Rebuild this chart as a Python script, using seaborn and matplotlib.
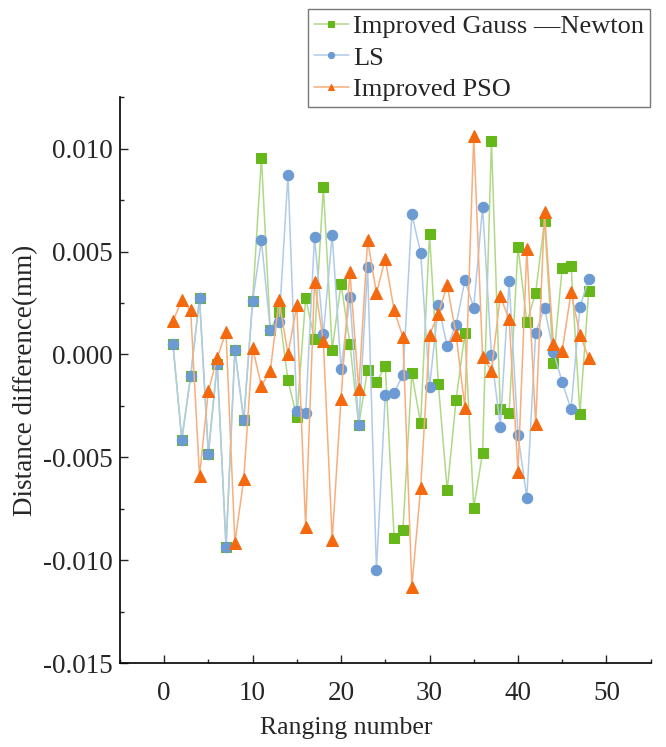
import numpy as np
import pandas as pd
import seaborn as sns
import matplotlib.pyplot as plt
from matplotlib.ticker import MultipleLocator, StrMethodFormatter

# ranging number 1..48
ranging = list(range(1, 49))

gauss_newton = [0.00049, -0.00413, -0.00105, 0.00273, -0.00482, -0.00044, -0.00934, 0.00023, -0.00320, 0.00259,
                0.00955, 0.00117, 0.00205, -0.00125, -0.00304, 0.00275, 0.00073, 0.00812, 0.00024, 0.00343,
                0.00053, -0.00343, -0.00073, -0.00134, -0.00057, -0.00890, -0.00850, -0.00092, -0.00335, 0.00586,
                -0.00144, -0.00660, -0.00222, 0.00105, -0.00744, -0.00477, 0.01039, -0.00267, -0.00283, 0.00523,
                0.00157, 0.00300, 0.00647, -0.00040, 0.00421, 0.00432, -0.00288, 0.00310]

ls = [0.00049, -0.00413, -0.00105, 0.00273, -0.00482, -0.00044, -0.00934, 0.00023, -0.00320, 0.00259,
      0.00555, 0.00117, 0.00157, 0.00874, -0.00275, -0.00283, 0.00570, 0.00100, 0.00579, -0.00070,
      0.00278, -0.00343, 0.00426, -0.01049, -0.00197, -0.00186, -0.00100, 0.00680, 0.00494, -0.00160,
      0.00239, 0.00040, 0.00141, 0.00361, 0.00228, 0.00717, -0.00003, -0.00350, 0.00356, -0.00390,
      -0.00696, 0.00105, 0.00227, 0.00013, -0.00134, -0.00267, 0.00231, 0.00367]

pso = [0.00162, 0.00264, 0.00214, -0.00590, -0.00178, -0.00016, 0.00110, -0.00914, -0.00607, 0.00032,
       -0.00153, -0.00078, 0.00264, 0.00000, 0.00238, -0.00838, 0.00351, 0.00065, -0.00901, -0.00215,
       0.00401, -0.00170, 0.00555, 0.00299, 0.00464, 0.00214, 0.00084, -0.01128, -0.00649, 0.00094,
       0.00199, 0.00336, 0.00097, -0.00259, 0.01060, -0.00013, -0.00078, 0.00283, 0.00170, -0.00571,
       0.00510, -0.00340, 0.00691, 0.00049, 0.00019, 0.00302, 0.00097, -0.00019]

labels = ['Improved Gauss \u2014Newton', 'LS', 'Improved PSO']
series = [gauss_newton, ls, pso]
markers = ['s', 'o', '^']
mcolors = ['#66b81a', '#6b9bd2', '#f4680e']
lcolors = ['#b0d986', '#b0cbe8', '#f7ae7c']
msizes = [6.5, 7.5, 8]

sns.set_style('white')
plt.rcParams['font.family'] = ['Liberation Serif', 'DejaVu Serif']
plt.rcParams['axes.unicode_minus'] = False

fi = plt.figure(figsize=(6.66, 7.47), dpi=100)
ax = fi.add_axes([0.180, 0.112, 0.797, 0.758])

for lab, vals, mk, mc, lc, ms in zip(labels, series, markers, mcolors, lcolors, msizes):
    df = pd.DataFrame({'x': ranging, 'y': vals})
    sns.lineplot(  data=df
                 , x='x'
                 , y='y'
                 , color=lc
                 , linewidth=1.1
                 , marker=mk
                 , markersize=ms
                 , markerfacecolor=mc
                 , markeredgecolor=mc
                 , label=lab
                 , legend=False
                 , ax=ax
                )

ax.set_xlim(-5, 55)
ax.set_ylim(-0.015, 0.0125)
ax.xaxis.set_major_locator(MultipleLocator(10))
ax.xaxis.set_minor_locator(MultipleLocator(5))
ax.yaxis.set_major_locator(MultipleLocator(0.005))
ax.yaxis.set_minor_locator(MultipleLocator(0.0025))
ax.yaxis.set_major_formatter(StrMethodFormatter("{x:.3f}"))

ax.tick_params(axis='both', which='major', direction='in', length=6, width=1,
               labelsize=19.5, left=True, bottom=True)
ax.tick_params(axis='y', which='major', pad=5)
ax.tick_params(axis='x', which='major', pad=13)
ax.tick_params(axis='both', which='minor', direction='in', length=3, width=1,
               left=True, bottom=True)

for s in ['top', 'right']:
    ax.spines[s].set_visible(False)
for s in ['left', 'bottom']:
    ax.spines[s].set_color('black')
    ax.spines[s].set_linewidth(1.2)

ax.set_xlabel('Ranging number', fontsize=18.5)
ax.xaxis.set_label_coords(0.427, -0.095)
ax.set_ylabel('Distance difference(mm)', fontsize=19.5, labelpad=4)

handles, labs = ax.get_legend_handles_labels()
leg = fi.legend(  handles
                , labs
                , loc='upper right'
                , bbox_to_anchor=(0.976, 0.988)
                , borderaxespad=0.0
                , frameon=True
                , fancybox=False
                , edgecolor='#555555'
                , fontsize=19
                , markerscale=0.6
                , handlelength=1.35
                , handletextpad=0.15
                , labelspacing=0.3
                , borderpad=0.22
               )
leg.get_frame().set_linewidth(1.0)

fi.savefig('out.png', dpi=100)
